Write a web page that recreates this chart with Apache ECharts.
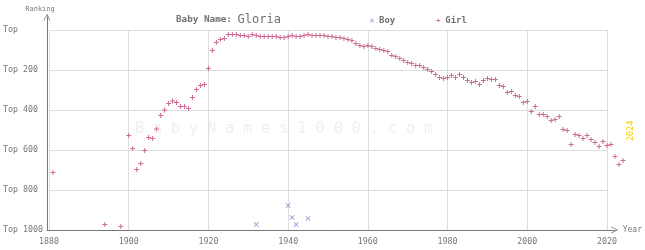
<!DOCTYPE html>
<html><head><meta charset="utf-8">
<script src="https://cdn.jsdelivr.net/npm/echarts@6/dist/echarts.min.js"></script>
<style>html,body{margin:0;padding:0;background:#fff}#c{width:645px;height:250px}</style>
</head><body><div id="c"></div>
<script>
const girlYears = [1881,1894,1898,
1900,1901,1902,1903,1904,1905,1906,1907,1908,1909,
1910,1911,1912,1913,1914,1915,1916,1917,1918,1919,
1920,1921,1922,1923,1924,1925,1926,1927,1928,1929,
1930,1931,1932,1933,1934,1935,1936,1937,1938,1939,
1940,1941,1942,1943,1944,1945,1946,1947,1948,1949,
1950,1951,1952,1953,1954,1955,1956,1957,1958,1959,
1960,1961,1962,1963,1964,1965,1966,1967,1968,1969,
1970,1971,1972,1973,1974,1975,1976,1977,1978,1979,
1980,1981,1982,1983,1984,1985,1986,1987,1988,1989,
1990,1991,1992,1993,1994,1995,1996,1997,1998,1999,
2000,2001,2002,2003,2004,2005,2006,2007,2008,2009,
2010,2011,2012,2013,2014,2015,2016,2017,2018,2019,
2020,2021,2022,2023,2024];
const girlRanks = [712,972,982,
527,592,697,667,602,537,542,495,427,400,
367,355,362,382,382,392,337,297,277,272,
192,102,62,47,42,22,22,22,27,27,
32,22,27,32,32,32,32,32,37,37,
32,27,32,32,27,22,27,27,27,27,
32,32,37,37,42,47,52,67,77,82,
77,82,92,97,102,107,127,132,142,152,
162,167,177,177,187,197,207,222,237,242,
237,227,237,222,237,252,262,257,272,252,
242,247,247,277,282,312,307,327,332,362,
357,407,382,422,422,432,452,447,432,497,
502,572,522,527,542,527,547,562,582,557,
577,572,632,672,652];
const boyYears = [1932,1940,1941,1942,1945];
const boyRanks = [972,877,937,972,942];
const yTicks = [0,200,400,600,800,1000];
const currentYear = 2024;

const FONT = 'DejaVu Sans Mono';
const PLUS = 'path://M4,0L6,0L6,4L10,4L10,6L6,6L6,10L4,10L4,6L0,6L0,4L4,4Z';
const CROSS = 'path://M0,1L1,0L5,4L9,0L10,1L6,5L10,9L9,10L5,6L1,10L0,9L4,5Z';
const CHEV = 'path://M0,10L5,0L10,10L8.8,10L5,2.4L1.2,10Z';

const chart = echarts.init(document.getElementById('c'), null, {renderer:'canvas'});
const girlData = girlYears.map((y,i)=>[y, girlRanks[i]]);
const boyData = boyYears.map((y,i)=>[y, boyRanks[i]]);

chart.setOption({
  animation:false,
  title:{
    text:'{a|Baby Name: }{b|Gloria}',
    left:171, top:9,
    textStyle:{rich:{
      a:{fontFamily:FONT,fontSize:9.3,fontWeight:'bold',color:'#707070'},
      b:{fontFamily:FONT,fontSize:12,fontWeight:'normal',color:'#707070'}
    }}
  },
  legend:{
    left:365, top:11, itemGap:41, itemWidth:4, itemHeight:4,
    textStyle:{fontFamily:FONT,fontSize:9,fontWeight:'bold',color:'#707070'},
    data:[{name:'Boy',icon:CROSS},{name:'Girl',icon:PLUS}]
  },
  graphic:[{
    type:'text', left:135, top:122, z:-1, silent:true,
    style:{text:'B a b y N a m e s 1 0 0 0 . c o m', fontFamily:FONT, fontSize:15, fill:'#efefef'}
  }],
  grid:[
    {left:47, right:38, top:30, bottom:20},
    {left:47, right:26, top:17, bottom:20}
  ],
  xAxis:[
    {gridIndex:0, type:'value', min:1880, max:2020, interval:20,
     axisLine:{show:false}, axisTick:{show:false},
     splitLine:{show:true, lineStyle:{color:'#ddd', width:1}},
     axisLabel:{fontFamily:FONT, fontSize:8.3, color:'#777', margin:8, formatter:v=>String(v)}},
    {gridIndex:1, type:'value', min:0, max:1, position:'bottom',
     axisLine:{show:true, onZero:false, symbol:['none',CHEV], symbolSize:[7,7], lineStyle:{color:'#777',width:1}},
     axisTick:{show:false}, axisLabel:{show:false}, splitLine:{show:false},
     name:'Year', nameLocation:'end', nameGap:8,
     nameTextStyle:{fontFamily:FONT, fontSize:8, color:'#777'}}
  ],
  yAxis:[
    {gridIndex:0, type:'value', inverse:true, min:0, max:1000, interval:200,
     axisLine:{show:false}, axisTick:{show:false},
     splitLine:{show:true, lineStyle:{color:'#ddd', width:1}},
     axisLabel:{fontFamily:FONT, fontSize:8.3, color:'#777', align:'left', margin:46,
       formatter:v=> v===yTicks[0] ? 'Top' : 'Top ' + v}},
    {gridIndex:1, type:'value', min:0, max:1, position:'left',
     axisLine:{show:true, onZero:false, symbol:['none',CHEV], symbolSize:[7,7], lineStyle:{color:'#777',width:1}},
     axisTick:{show:false}, axisLabel:{show:false}, splitLine:{show:false},
     name:'Ranking', nameLocation:'end', nameGap:4,
     nameTextStyle:{fontFamily:FONT, fontSize:7, color:'#777', align:'center', padding:[0,14,0,0]}}
  ],
  series:[
    {name:'Boy', type:'scatter', xAxisIndex:0, yAxisIndex:0, data:boyData, clip:false,
     symbol:CROSS, symbolSize:5, itemStyle:{color:'#5d70c0'}, z:3},
    {name:'Girl', type:'scatter', xAxisIndex:0, yAxisIndex:0, data:girlData, clip:false,
     symbol:PLUS, symbolSize:5, itemStyle:{color:'#c0487a'}, z:3,
     markLine:{silent:true, symbol:['none','none'], animation:false,
       lineStyle:{color:'#f0d010', width:1, type:'solid'},
       label:{show:false},
       data:[{xAxis:currentYear}]}}
  ]
});
const p = chart.convertToPixel({gridIndex:0}, [currentYear, 500]);
chart.setOption({graphic:[{}, {
  type:'text', x:p[0]+3, y:p[1]+11, rotation:Math.PI/2, silent:true,
  style:{text:String(currentYear), fontFamily:FONT, fontSize:8.5, fill:'#f0d010', verticalAlign:'top', align:'left'}
}]});
</script></body></html>
